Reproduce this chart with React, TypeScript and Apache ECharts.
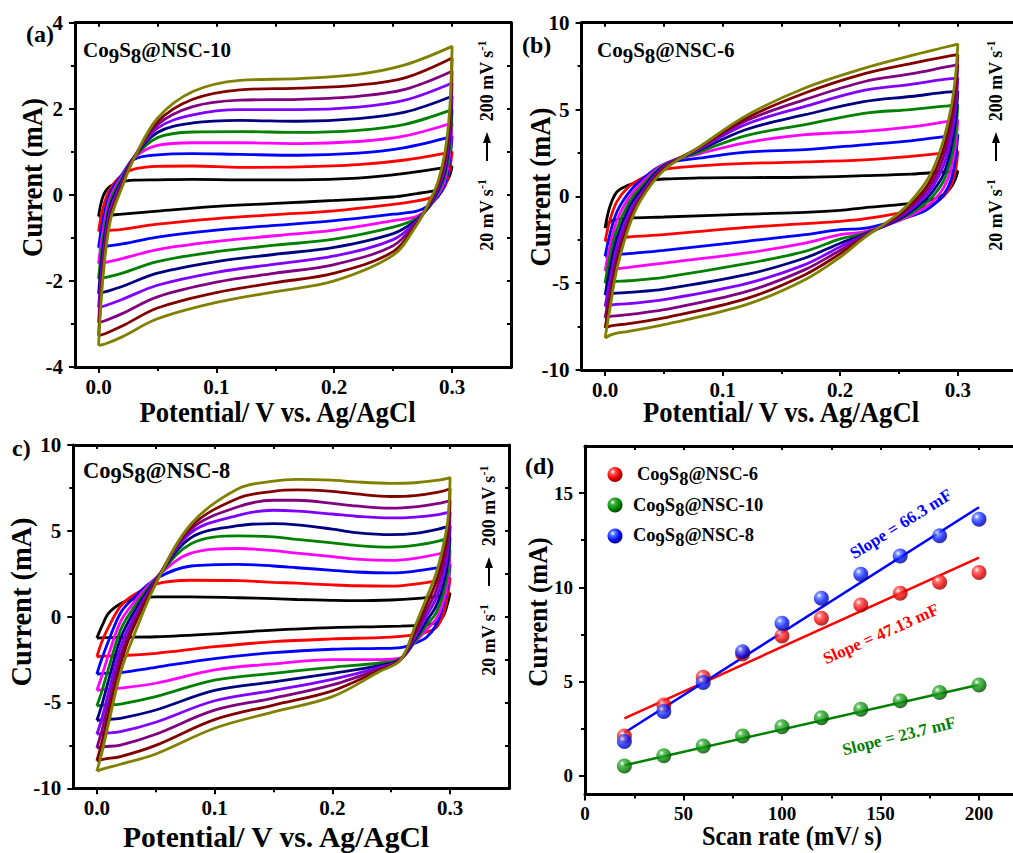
import React, { useEffect, useRef } from 'react';
import * as echarts from 'echarts';

const FONT = '"Liberation Serif", "Times New Roman", Times, serif';
const W = 1013;
const H = 853;

// scan rates of the ten CV loops (mV/s), drawn in this order
const SCAN_LOOPS = [20, 40, 60, 80, 100, 120, 140, 160, 180, 200];
const LOOP_COLORS = ['#000000', '#ff0000', '#0000ff', '#ff00ff', '#008000', '#000080', '#8000ff', '#800080', '#800000', '#808000'];

// ---------- (a) Co9S8@NSC-10 : potential (V) / current (mA) ----------
const UX_A = [0, 0.004, 0.01, 0.02, 0.03, 0.05, 0.08, 0.12, 0.17, 0.22, 0.26, 0.3];
const UP_A = [
  [-0.5, -0.02, 0.2, 0.3, 0.34, 0.35, 0.36, 0.35, 0.35, 0.39, 0.5, 0.66],
  [-0.85, -0.28, 0.15, 0.46, 0.6, 0.66, 0.67, 0.64, 0.65, 0.7, 0.81, 1.0],
  [-1.23, -0.55, 0.05, 0.48, 0.82, 0.93, 0.96, 0.94, 0.92, 0.97, 1.1, 1.36],
  [-1.6, -0.8, -0.05, 0.44, 0.86, 1.15, 1.21, 1.21, 1.19, 1.24, 1.37, 1.67],
  [-1.95, -1.0, -0.15, 0.4, 0.87, 1.33, 1.46, 1.47, 1.45, 1.5, 1.64, 1.98],
  [-2.3, -1.2, -0.25, 0.35, 0.87, 1.45, 1.67, 1.73, 1.71, 1.77, 1.92, 2.29],
  [-2.62, -1.4, -0.35, 0.3, 0.87, 1.55, 1.86, 1.98, 1.98, 2.04, 2.2, 2.6],
  [-2.97, -1.55, -0.45, 0.26, 0.86, 1.63, 2.05, 2.2, 2.22, 2.29, 2.45, 2.87],
  [-3.27, -1.7, -0.52, 0.22, 0.85, 1.7, 2.22, 2.44, 2.48, 2.55, 2.72, 3.18],
  [-3.5, -1.85, -0.6, 0.18, 0.84, 1.78, 2.4, 2.66, 2.7, 2.8, 3.02, 3.45],
];
const LX_A = [0.298, 0.294, 0.288, 0.28, 0.27, 0.25, 0.2, 0.15, 0.1, 0.05, 0.02, 0.006, 0];
const LOW_A = [
  [0.45, 0.25, 0.12, 0.07, 0.03, -0.05, -0.13, -0.2, -0.27, -0.38, -0.45, -0.48, -0.5],
  [0.6, 0.2, 0.0, -0.08, -0.14, -0.22, -0.37, -0.46, -0.55, -0.68, -0.8, -0.83, -0.85],
  [0.8, 0.25, -0.05, -0.25, -0.38, -0.45, -0.6, -0.71, -0.82, -0.98, -1.14, -1.2, -1.23],
  [0.95, 0.35, 0.0, -0.3, -0.5, -0.6, -0.82, -0.95, -1.08, -1.27, -1.48, -1.57, -1.6],
  [1.1, 0.45, 0.05, -0.3, -0.55, -0.75, -1.03, -1.17, -1.32, -1.55, -1.82, -1.92, -1.95],
  [1.3, 0.55, 0.1, -0.28, -0.58, -0.9, -1.22, -1.38, -1.55, -1.82, -2.13, -2.25, -2.3],
  [1.45, 0.65, 0.15, -0.26, -0.61, -1.04, -1.42, -1.61, -1.8, -2.1, -2.43, -2.57, -2.62],
  [1.6, 0.75, 0.2, -0.24, -0.64, -1.18, -1.62, -1.82, -2.03, -2.37, -2.76, -2.92, -2.97],
  [1.8, 0.85, 0.25, -0.22, -0.67, -1.32, -1.82, -2.04, -2.27, -2.63, -3.05, -3.22, -3.27],
  [2.0, 1.0, 0.3, -0.2, -0.7, -1.4, -2.0, -2.25, -2.5, -2.88, -3.3, -3.46, -3.5],
];

// ---------- (b) Co9S8@NSC-6 ----------
const UX_B = [0, 0.004, 0.01, 0.02, 0.03, 0.05, 0.08, 0.12, 0.17, 0.22, 0.26, 0.29, 0.3];
const UP_B = [
  [-1.82, -0.6, 0.25, 0.65, 0.85, 1.0, 1.06, 1.08, 1.1, 1.19, 1.28, 1.42, 1.45],
  [-2.59, -1.4, -0.3, 0.55, 1.0, 1.55, 1.75, 1.9, 1.98, 2.1, 2.3, 2.5, 2.59],
  [-3.45, -2.2, -0.9, 0.2, 0.9, 1.85, 2.2, 2.55, 2.69, 2.97, 3.2, 3.45, 3.55],
  [-4.3, -2.9, -1.4, -0.1, 0.7, 1.85, 2.45, 3.1, 3.55, 3.74, 4.0, 4.3, 4.41],
  [-5.0, -3.5, -1.9, -0.4, 0.5, 1.8, 2.55, 3.5, 4.13, 4.78, 5.0, 5.2, 5.28],
  [-5.68, -4.2, -2.4, -0.7, 0.3, 1.75, 2.65, 3.85, 4.7, 5.45, 5.75, 6.0, 6.05],
  [-6.35, -4.9, -2.9, -1.0, 0.1, 1.7, 2.72, 4.15, 5.18, 6.1, 6.45, 6.75, 6.81],
  [-7.0, -5.5, -3.4, -1.3, -0.05, 1.65, 2.78, 4.35, 5.57, 6.6, 7.05, 7.45, 7.58],
  [-7.58, -6.0, -3.8, -1.55, -0.15, 1.58, 2.82, 4.5, 5.95, 7.05, 7.65, 8.05, 8.16],
  [-8.16, -6.5, -4.2, -1.8, -0.25, 1.5, 2.85, 4.65, 6.24, 7.37, 8.1, 8.6, 8.77],
];
const LX_B = [0.298, 0.294, 0.288, 0.28, 0.27, 0.25, 0.22, 0.2, 0.17, 0.12, 0.05, 0.02, 0.006, 0];
const LOW_B = [
  [1.0, 0.5, 0.1, -0.15, -0.3, -0.48, -0.66, -0.81, -0.92, -1.02, -1.19, -1.25, -1.4, -1.82],
  [1.5, 0.6, 0.0, -0.4, -0.65, -0.96, -1.3, -1.44, -1.57, -1.79, -2.21, -2.34, -2.45, -2.59],
  [2.2, 0.9, 0.1, -0.45, -0.9, -1.34, -1.85, -1.92, -2.21, -2.59, -3.11, -3.3, -3.38, -3.45],
  [2.9, 1.5, 0.5, -0.2, -0.75, -1.4, -2.05, -2.2, -2.69, -3.26, -3.84, -4.09, -4.2, -4.3],
  [3.6, 2.1, 0.9, 0.1, -0.55, -1.35, -2.15, -2.45, -3.17, -3.88, -4.66, -4.86, -4.92, -5.0],
  [4.3, 2.7, 1.3, 0.4, -0.35, -1.3, -2.2, -2.7, -3.55, -4.51, -5.34, -5.53, -5.6, -5.68],
  [5.0, 3.3, 1.8, 0.7, -0.15, -1.22, -2.25, -2.9, -3.93, -5.03, -5.95, -6.18, -6.25, -6.35],
  [5.7, 3.9, 2.3, 1.0, 0.05, -1.15, -2.3, -3.1, -4.22, -5.49, -6.53, -6.81, -6.9, -7.0],
  [6.3, 4.5, 2.8, 1.35, 0.25, -1.05, -2.35, -3.3, -4.51, -5.89, -7.0, -7.33, -7.45, -7.58],
  [6.9, 5.0, 3.3, 1.73, 0.55, -0.96, -2.4, -3.5, -4.8, -6.24, -7.39, -7.77, -7.95, -8.16],
];

// ---------- (c) Co9S8@NSC-8 ----------
const UX_C = [0, 0.004, 0.01, 0.02, 0.03, 0.05, 0.08, 0.12, 0.15, 0.17, 0.2, 0.22, 0.25, 0.27, 0.29, 0.3];
const UP_C = [
  [-1.25, -0.6, 0.2, 0.75, 1.0, 1.15, 1.15, 1.1, 1.05, 1.0, 0.95, 0.93, 0.97, 1.05, 1.2, 1.36],
  [-2.35, -1.5, -0.6, 0.6, 1.2, 1.9, 2.12, 2.1, 2.0, 1.95, 1.85, 1.8, 1.78, 1.9, 2.1, 2.25],
  [-3.35, -2.5, -1.4, 0.2, 1.0, 2.2, 2.95, 3.05, 2.95, 2.85, 2.7, 2.6, 2.55, 2.65, 2.85, 3.05],
  [-4.3, -3.5, -2.2, -0.3, 0.7, 2.25, 3.7, 3.97, 3.85, 3.7, 3.5, 3.35, 3.28, 3.4, 3.65, 3.85],
  [-5.2, -4.4, -3.0, -0.8, 0.4, 2.2, 4.25, 4.7, 4.65, 4.5, 4.3, 4.15, 4.05, 4.15, 4.4, 4.6],
  [-6.05, -5.2, -3.7, -1.3, 0.1, 2.15, 4.6, 5.3, 5.42, 5.35, 5.1, 4.9, 4.78, 4.85, 5.1, 5.3],
  [-6.85, -6.0, -4.4, -1.8, -0.2, 2.1, 4.9, 5.9, 6.2, 6.15, 5.98, 5.85, 5.75, 5.8, 5.95, 6.1],
  [-7.65, -6.7, -5.0, -2.3, -0.5, 2.05, 5.1, 6.4, 6.78, 6.78, 6.6, 6.45, 6.32, 6.4, 6.6, 6.75],
  [-8.4, -7.4, -5.6, -2.8, -0.8, 2.0, 5.25, 6.9, 7.3, 7.38, 7.3, 7.15, 7.0, 7.05, 7.25, 7.45],
  [-9.0, -8.0, -6.2, -3.3, -1.35, 1.9, 5.4, 7.45, 7.9, 8.0, 7.95, 7.85, 7.77, 7.8, 7.95, 8.1],
];
const LX_C = [0.298, 0.294, 0.288, 0.28, 0.27, 0.258, 0.24, 0.2, 0.15, 0.1, 0.05, 0.02, 0.006, 0];
const LOW_C = [
  [0.8, 0.0, -0.35, -0.48, -0.52, -0.55, -0.58, -0.64, -0.78, -1.0, -1.17, -1.2, -1.22, -1.25],
  [1.3, 0.1, -0.65, -0.9, -1.05, -1.15, -1.22, -1.3, -1.46, -1.75, -2.14, -2.27, -2.3, -2.35],
  [1.8, 0.6, -0.5, -1.2, -1.55, -1.8, -1.85, -1.9, -2.1, -2.45, -2.95, -3.26, -3.3, -3.35],
  [2.0, 0.8, -0.15, -0.75, -1.5, -2.4, -2.5, -2.5, -2.75, -3.1, -3.88, -4.17, -4.25, -4.3],
  [2.6, 1.3, 0.2, -0.5, -1.45, -2.45, -2.7, -2.95, -3.3, -3.7, -4.66, -5.09, -5.15, -5.2],
  [3.2, 1.8, 0.6, -0.25, -1.35, -2.48, -2.85, -3.3, -3.8, -4.3, -5.44, -5.92, -6.0, -6.05],
  [3.8, 2.3, 1.05, 0.05, -1.2, -2.5, -2.95, -3.65, -4.3, -4.9, -6.15, -6.7, -6.8, -6.85],
  [4.4, 2.9, 1.5, 0.35, -1.05, -2.5, -3.05, -3.98, -4.75, -5.45, -6.85, -7.48, -7.58, -7.65],
  [5.0, 3.5, 2.0, 0.7, -0.85, -2.5, -3.12, -4.32, -5.15, -6.0, -7.5, -8.15, -8.3, -8.4],
  [5.6, 4.08, 2.5, 1.1, -0.6, -2.52, -3.2, -4.66, -5.55, -6.5, -8.0, -8.6, -8.85, -9.0],
];

// ---------- (d) current vs scan rate ----------
const SCAN_RATE = [20, 40, 60, 80, 100, 120, 140, 160, 180, 200];
const I_NSC6 = [2.1, 3.75, 5.22, 6.46, 7.42, 8.35, 9.06, 9.68, 10.27, 10.78];
const I_NSC10 = [0.51, 1.06, 1.58, 2.11, 2.6, 3.08, 3.52, 3.98, 4.41, 4.81];
const I_NSC8 = [1.81, 3.4, 4.94, 6.58, 8.09, 9.42, 10.69, 11.66, 12.73, 13.61];
const FIT_X = [20, 200];
const FIT_NSC6 = [3.04, 11.58];
const FIT_NSC10 = [0.55, 4.83];
const FIT_NSC8 = [2.28, 14.25];
const SLOPE_LABELS = ['Slope = 66.3 mF', 'Slope = 47.13 mF', 'Slope = 23.7 mF'];

// tick labels
const X_CV_TICKS = [0, 0.1, 0.2, 0.3];
const X_CV_MINOR = [0.05, 0.15, 0.25];
const X_CV_TOP = [0, 0.05, 0.1, 0.15, 0.2, 0.25, 0.3];
const Y_A_TICKS = [-4, -2, 0, 2, 4];
const Y_A_MINOR = [-3, -1, 1, 3];
const Y_A_RIGHT = [-3, -2, -1, 0, 1, 2, 3];
const Y_BC_TICKS = [-10, -5, 0, 5, 10];
const Y_BC_MINOR = [-7.5, -2.5, 2.5, 7.5];
const Y_BC_RIGHT = [-7.5, -5, -2.5, 0, 2.5, 5, 7.5];
const X_D_TICKS = [0, 50, 100, 150, 200];
const X_D_MINOR = [25, 75, 125, 175];
const X_D_TOP = [25, 50, 75, 100, 125, 150, 175, 200];
const Y_D_TICKS = [0, 5, 10, 15];
const Y_D_MINOR = [2.5, 7.5, 12.5];

const tickLine = { color: '#000', width: 2 };
const mainLine = { show: true, onZero: false, lineStyle: { color: '#000', width: 3 } };

function labelStyle(fontSize: number, fmt?: (v: number) => string, custom?: number[], margin = 10) {
  return { show: true, customValues: custom, formatter: fmt, color: '#000', fontFamily: FONT, fontWeight: 'bold', fontSize, margin };
}

function xAxes(grid: number, min: number, max: number, major: number[], minor: number[], top: number[], fmt: (v: number) => string, fs: number) {
  return [
    { type: 'value', gridIndex: grid, position: 'bottom', min, max, axisLine: mainLine,
      axisTick: { show: true, customValues: major, length: 6, lineStyle: tickLine },
      axisLabel: labelStyle(fs, fmt, major, 9), splitLine: { show: false } },
    { type: 'value', gridIndex: grid, position: 'bottom', min, max, axisLine: { show: false, onZero: false },
      axisTick: { show: true, customValues: minor, length: 4, lineStyle: tickLine },
      axisLabel: { show: false }, splitLine: { show: false } },
    { type: 'value', gridIndex: grid, position: 'top', min, max, axisLine: mainLine,
      axisTick: { show: true, inside: true, customValues: top, length: 4, lineStyle: tickLine },
      axisLabel: { show: false }, splitLine: { show: false } },
  ];
}

function yAxes(grid: number, min: number, max: number, major: number[], minor: number[], right: number[] | null, fs: number) {
  return [
    { type: 'value', gridIndex: grid, position: 'left', min, max, axisLine: mainLine,
      axisTick: { show: true, customValues: major, length: 6, lineStyle: tickLine },
      axisLabel: labelStyle(fs, (v: number) => String(v), major, 12), splitLine: { show: false } },
    { type: 'value', gridIndex: grid, position: 'left', min, max, axisLine: { show: false, onZero: false },
      axisTick: { show: true, customValues: minor, length: 4, lineStyle: tickLine },
      axisLabel: { show: false }, splitLine: { show: false } },
    { type: 'value', gridIndex: grid, position: 'right', min, max, axisLine: mainLine,
      axisTick: { show: !!right, inside: true, customValues: right || [], length: 4, lineStyle: tickLine },
      axisLabel: { show: false }, splitLine: { show: false } },
  ];
}

function loopSeries(panel: number, ux: number[], up: number[][], lx: number[], low: number[][]) {
  return SCAN_LOOPS.map((rate, i) => {
    const data: number[][] = [];
    ux.forEach((x, k) => data.push([x, up[i][k]]));
    lx.forEach((x, k) => data.push([x, low[i][k]]));
    return {
      type: 'line', name: `${rate} mV/s`, xAxisIndex: panel * 3, yAxisIndex: panel * 3,
      data, showSymbol: false, symbol: 'none', smooth: 0.35, silent: true,
      lineStyle: { color: LOOP_COLORS[i], width: 2.8 }, z: 3,
    };
  });
}

function ball(c0: string, c1: string, c2: string) {
  return { type: 'radial', x: 0.35, y: 0.32, r: 0.7, colorStops: [
    { offset: 0, color: '#ffffff' }, { offset: 0.25, color: c0 }, { offset: 0.65, color: c1 }, { offset: 1, color: c2 },
  ] };
}
const BALL_RED = ball('#ff5050', '#ee0000', '#8a0000');
const BALL_GREEN = ball('#40b040', '#008a00', '#004000');
const BALL_BLUE = ball('#5070ff', '#0010ff', '#000080');

function chem(suffix: string) {
  return `{n|Co}{s|9}{n|S}{s|8}{n|${suffix}}`;
}
function chemRich(size: number) {
  return {
    n: { fontFamily: FONT, fontWeight: 'bold', fontSize: size, fill: '#000' },
    s: { fontFamily: FONT, fontWeight: 'bold', fontSize: size, fill: '#000', padding: [Math.round(size * 0.5), 0, 0, 0] },
  };
}

function text(x: number, y: number, str: string, size: number, opts: any = {}) {
  return {
    type: 'text', x, y, rotation: opts.rot || 0, scaleX: opts.sx || 1, silent: true, z: 20,
    style: {
      text: str, fill: opts.color || '#000', fontFamily: FONT, fontWeight: 'bold', fontSize: size,
      align: opts.align || 'center', verticalAlign: 'middle', rich: opts.rich,
    },
  };
}

const NOTE_RICH = {
  m: { fontFamily: FONT, fontWeight: 'bold', fontSize: 18, fill: '#000' },
  p: { fontFamily: FONT, fontWeight: 'bold', fontSize: 12, fill: '#000', padding: [0, 0, 11, 0] },
};
function rateNote(cx: number, dy: number) {
  const r = Math.PI / 2;
  return [
    text(cx, 215 + dy, '{m|20 mV s}{p|-1}', 18, { rot: r, rich: NOTE_RICH }),
    { type: 'line', silent: true, z: 20, shape: { x1: cx, y1: 161 + dy, x2: cx, y2: 140 + dy }, style: { stroke: '#000', lineWidth: 2 } },
    { type: 'polygon', silent: true, z: 20, shape: { points: [[cx, 132 + dy], [cx - 4, 143 + dy], [cx + 4, 143 + dy]] }, style: { fill: '#000' } },
    text(cx, 81 + dy, '{m|200 mV s}{p|-1}', 18, { rot: r, rich: NOTE_RICH }),
  ];
}

function buildOption() {
  const fmt1 = (v: number) => v.toFixed(1);
  const fmt0 = (v: number) => String(v);
  const grids = [
    { left: 75, top: 22.7, width: 436, height: 344.3 },
    { left: 581.6, top: 22.7, width: 435, height: 347.3 },
    { left: 73.3, top: 445, width: 435.7, height: 343.3 },
    { left: 585, top: 446, width: 433.4, height: 348.5 },
  ].map((g) => ({ ...g, containLabel: false, outerBoundsMode: 'none', show: false }));

  const xAxis = [
    ...xAxes(0, -0.02, 0.35, X_CV_TICKS, X_CV_MINOR, X_CV_TOP, fmt1, 21),
    ...xAxes(1, -0.02, 0.35, X_CV_TICKS, X_CV_MINOR, X_CV_TOP, fmt1, 21),
    ...xAxes(2, -0.02, 0.35, X_CV_TICKS, X_CV_MINOR, X_CV_TOP, fmt1, 21),
    ...xAxes(3, 0, 220, X_D_TICKS, X_D_MINOR, X_D_TOP, fmt0, 19),
  ];
  const yAxis = [
    ...yAxes(0, -4, 4, Y_A_TICKS, Y_A_MINOR, Y_A_RIGHT, 21),
    ...yAxes(1, -10, 10, Y_BC_TICKS, Y_BC_MINOR, null, 21),
    ...yAxes(2, -10, 10, Y_BC_TICKS, Y_BC_MINOR, Y_BC_RIGHT, 21),
    ...yAxes(3, -1, 17.5, Y_D_TICKS, Y_D_MINOR, null, 19),
  ];

  const pair = (xs: number[], ys: number[]) => xs.map((x, i) => [x, ys[i]]);
  const fit = (name: string, ys: number[], color: string) => ({
    type: 'line', name, xAxisIndex: 9, yAxisIndex: 9, data: pair(FIT_X, ys), showSymbol: false, symbol: 'none',
    silent: true, lineStyle: { color, width: 2.5 }, z: 3,
  });
  const scatter = (name: string, ys: number[], color: any) => ({
    type: 'scatter', name, xAxisIndex: 9, yAxisIndex: 9, data: pair(SCAN_RATE, ys), symbol: 'circle', symbolSize: 15,
    silent: true, itemStyle: { color }, z: 4,
  });

  const series = [
    ...loopSeries(0, UX_A, UP_A, LX_A, LOW_A),
    ...loopSeries(1, UX_B, UP_B, LX_B, LOW_B),
    ...loopSeries(2, UX_C, UP_C, LX_C, LOW_C),
    fit('fit NSC-6', FIT_NSC6, '#ff0000'),
    fit('fit NSC-8', FIT_NSC8, '#0000ff'),
    fit('fit NSC-10', FIT_NSC10, '#008000'),
    scatter('Co9S8@NSC-6', I_NSC6, BALL_RED),
    scatter('Co9S8@NSC-10', I_NSC10, BALL_GREEN),
    scatter('Co9S8@NSC-8', I_NSC8, BALL_BLUE),
  ];

  const rad = (d: number) => (d * Math.PI) / 180;
  const legendBall = (cy: number, g: any) => ({
    type: 'circle', silent: true, z: 20, shape: { cx: 615, cy, r: 7.5 },
    style: { fill: new echarts.graphic.RadialGradient(g.x, g.y, g.r, g.colorStops) },
  });

  const elements: any[] = [
    // panel letters
    text(26, 34, '(a)', 24, { align: 'left' }),
    text(522, 45, '(b)', 24, { align: 'left' }),
    text(12, 448, 'c)', 24, { align: 'left' }),
    text(525, 466, '(d)', 24, { align: 'left' }),
    // sample names
    text(83, 50, chem('@NSC-10'), 21, { align: 'left', rich: chemRich(21) }),
    text(597, 50, chem('@NSC-6'), 21, { align: 'left', rich: chemRich(21) }),
    text(83, 470, chem('@NSC-8'), 22.5, { align: 'left', rich: chemRich(22.5) }),
    // axis titles
    text(277.5, 412, 'Potential/ V vs. Ag/AgCl', 29, { sx: 0.92 }),
    text(32, 177.5, 'Current (mA)', 29, { rot: Math.PI / 2, sx: 0.92 }),
    text(781, 412, 'Potential/ V vs. Ag/AgCl', 29, { sx: 0.92 }),
    text(540, 187, 'Current (mA)', 29, { rot: Math.PI / 2, sx: 0.92 }),
    text(276, 837, 'Potential/ V vs. Ag/AgCl', 29, { sx: 1.02 }),
    text(21, 602, 'Current (mA)', 29, { rot: Math.PI / 2, sx: 0.98 }),
    text(792, 836, 'Scan rate (mV/ s)', 27, { sx: 0.9 }),
    text(538, 612, 'Current (mA)', 27, { rot: Math.PI / 2, sx: 0.93 }),
    // scan-rate notes
    ...rateNote(487, 0),
    ...rateNote(996, 0),
    ...rateNote(489, 425),
    // legend of (d)
    legendBall(474.5, BALL_RED),
    legendBall(505, BALL_GREEN),
    legendBall(536, BALL_BLUE),
    text(637, 474, chem('@NSC-6'), 18.5, { align: 'left', rich: chemRich(18.5) }),
    text(633, 505, chem('@NSC-10'), 18.5, { align: 'left', rich: chemRich(18.5) }),
    text(633, 535, chem('@NSC-8'), 18.5, { align: 'left', rich: chemRich(18.5) }),
    // slopes
    text(901, 524, SLOPE_LABELS[0], 17, { rot: rad(32), color: '#0000ff' }),
    text(881, 634, SLOPE_LABELS[1], 17, { rot: rad(24), color: '#ff0000' }),
    text(899, 736, SLOPE_LABELS[2], 17, { rot: rad(14), color: '#008000' }),
  ];

  return {
    animation: false,
    backgroundColor: '#ffffff',
    grid: grids,
    xAxis,
    yAxis,
    series,
    graphic: { elements },
  };
}

export default function App() {
  const ref = useRef<HTMLDivElement>(null);
  useEffect(() => {
    if (!ref.current) return;
    const chart = echarts.init(ref.current, null, { renderer: 'svg' });
    chart.setOption(buildOption() as any);
    return () => chart.dispose();
  }, []);
  return <div ref={ref} style={{ position: 'absolute', left: 0, top: 0, width: W, height: H, background: '#fff' }} />;
}
